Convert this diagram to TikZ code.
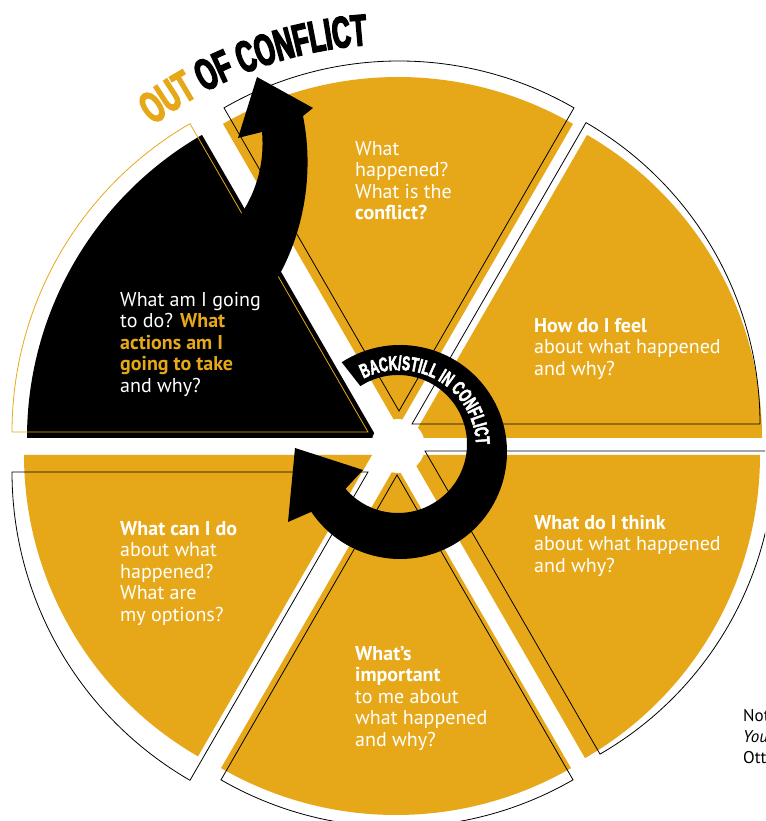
\documentclass[tikz,border=0pt]{standalone}
\usepackage{fontspec}
\setmainfont{PT Sans}
\newfontfamily\impactbig[FakeStretch=0.58,FakeBold=3.5]{Liberation Sans Bold}
\newfontfamily\impactsmall[FakeStretch=0.62,FakeBold=2.5]{Liberation Sans Bold}
\usetikzlibrary{calc,decorations.text}
\definecolor{gold}{RGB}{230,168,24}
\newcommand\bigimpact{\impactbig\fontsize{44}{44}\selectfont}
\newcommand\smallimpact{\impactsmall\fontsize{20}{20}\selectfont}
\newcommand\sectorpath[4]{\path[#1] (#2) -- ++(#3:#4pt) arc[start angle=#3, delta angle=60, radius=#4pt] -- cycle;}
\tikzset{
  body/.style={font=\fontsize{20}{21.5}\selectfont, text=white, align=left, anchor=north west, inner sep=0pt},
  outline/.style={draw=black, line width=0.8pt, line join=miter},
  note/.style={font=\fontsize{17}{20}\selectfont, text=black, anchor=base west, inner sep=0pt}
}
\begin{document}
\begin{tikzpicture}[x=1pt,y=1pt]
\useasboundingbox (0,0) rectangle (765,821);
\clip (0,0) rectangle (765,821);
% fills
\sectorpath{fill=gold}{412,383}{0}{350}
\sectorpath{fill=gold}{398,394}{60}{350}
\sectorpath{fill=black}{377,383}{120}{350}
\sectorpath{fill=gold}{372,366}{180}{348}
\sectorpath{fill=gold}{396,356}{240}{350}
\sectorpath{fill=gold}{410,366}{300}{350}
% hub
\fill[white] (398,375) circle[radius=27pt];
% outlines
\sectorpath{outline}{412,397}{0}{348}
\sectorpath{outline}{399,410}{60}{350}
\sectorpath{outline,draw=gold}{368,389}{120}{356}
\sectorpath{outline}{368,349}{180}{356}
\sectorpath{outline}{397,346}{240}{352}
\sectorpath{outline}{425,370}{300}{350}
% ring arrow (back / still in conflict)
\fill[black] ($(400,369)+(123:107pt)$) arc[start angle=123, end angle=-146, radius=107pt]
  -- (288,299) -- (295,373) -- (363,351)
  -- ($(398,377)+(-139.5:69pt)$) arc[start angle=-139.5, end angle=123, radius=69pt] -- cycle;
% out arrow
\fill[black] (270,531) .. controls (300,575) and (316,640) .. (303,705)
  -- (313,713) -- (257,744) -- (238,683) -- (262,689)
  .. controls (265,655) and (255,620) .. (228,590) -- cycle;
% curved titles
\path[decorate, decoration={text along path, text align=center,
  text={|\bigimpact\color{gold}|OUT|\bigimpact\color{black}| OF CONFLICT}}]
  ($(395,376)+(128:401pt)$) arc[start angle=128, end angle=93, radius=401pt];
\path[decorate, decoration={text along path, text align=center,
  text={|\smallimpact\color{white}|BACK/STILL IN CONFLICT}}]
  ($(399,374)+(122:77pt)$) arc[start angle=122, end angle=-3, radius=77pt];
% texts
\node[body] (t3) at (120,531) {\rule{0pt}{16pt}What am I going\\to do? \textcolor{gold}{\textbf{What}}\\\textcolor{gold}{\textbf{actions am I}}\\\textcolor{gold}{\textbf{going to take}}\\and why?};
\node[body] (t2) at (355,682) {\rule{0pt}{16pt}What\\happened?\\What is the\\\textbf{conflict?}};
\node[body] (t1) at (534,505) {\rule{0pt}{16pt}\textbf{How do I feel}\\about what happened\\and why?};
\node[body] (t6) at (534,308) {\rule{0pt}{16pt}\textbf{What do I think}\\about what happened\\and why?};
\node[body] (t4) at (120,302) {\rule{0pt}{16pt}\textbf{What can I do}\\about what\\happened?\\What are\\my options?};
\node[body] (t5) at (355,177) {\rule{0pt}{16pt}\textbf{What’s}\\\textbf{important}\\to me about\\what happened\\and why?};
% side note
\node[note] (n1) at (743,99) {Not};
\node[note] (n2) at (743,78) {\textit{You}};
\node[note] (n3) at (743,57) {Ott};
\end{tikzpicture}
\end{document}
